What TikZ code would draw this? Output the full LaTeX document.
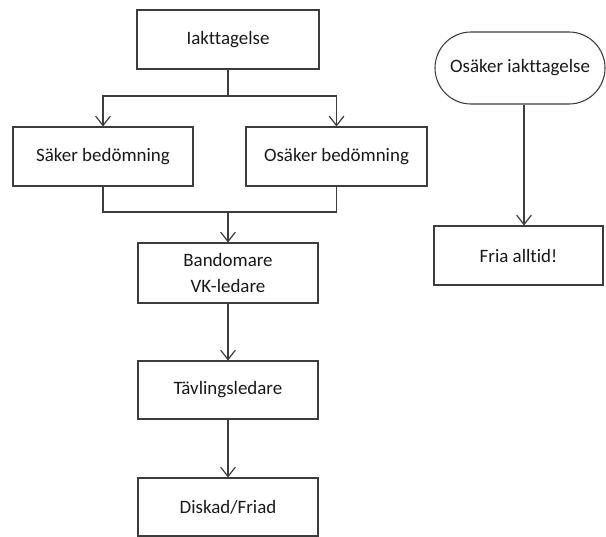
\documentclass[tikz,border=0pt]{standalone}
\usepackage{fontspec}
\setmainfont[Ligatures=NoCommon]{Carlito}
\usetikzlibrary{arrows.meta}
\definecolor{linegray}{HTML}{3C3C3C}
\tikzset{
  box/.style={draw=linegray, line width=0.8pt, fill=white, inner sep=0pt, align=center,
    font=\fontsize{14.2}{18.8}\selectfont, text=black!90},
  arr/.style={draw=linegray, line width=0.9pt, -{Straight Barb[length=7pt,width=11pt]}},
  conn/.style={draw=linegray, line width=0.9pt}
}
\begin{document}
\begin{tikzpicture}[x=0.75pt,y=-0.75pt]
\useasboundingbox (0,0) rectangle (606,536);
\node[box, minimum width=136.5pt, minimum height=44.25pt] (iak) at (228,39.5) {Iakttagelse};
\node[box, minimum width=135pt, minimum height=44.25pt] (saker) at (103,156.5) {Säker bedömning};
\node[box, minimum width=135.75pt, minimum height=44.25pt] (osb) at (336.5,156.5) {Osäker bedömning};
\node[box, minimum width=135pt, minimum height=45pt] (band) at (228,273) {Bandomare\\VK-ledare};
\node[box, minimum width=135pt, minimum height=43.5pt] (tav) at (228,390) {Tävlingsledare};
\node[box, minimum width=135pt, minimum height=43.5pt] (disk) at (228,507) {Diskad/Friad};
\node[box, minimum width=127.5pt, minimum height=54pt, rounded corners=27pt] (osi) at (520,68) {Osäker iakttagelse};
\node[box, minimum width=126.75pt, minimum height=44.25pt] (fria) at (518.5,255.5) {Fria alltid!};

\coordinate (s1) at (228,96);
\coordinate (m1) at (228,212);
\draw[conn] (iak.south) -- (s1);
\draw[arr] (s1) -| (saker.north);
\draw[arr] (s1) -| (osb.north);
\draw[conn] (saker.south) |- (m1);
\draw[conn] (osb.south) |- (m1);
\draw[arr] (m1) -- (band.north);
\draw[arr] (band.south) -- (tav.north);
\draw[arr] (tav.south) -- (disk.north);
\draw[arr] ([xshift=3pt]osi.south) -- ([xshift=3pt]osi.south |- fria.north);
\end{tikzpicture}
\end{document}
